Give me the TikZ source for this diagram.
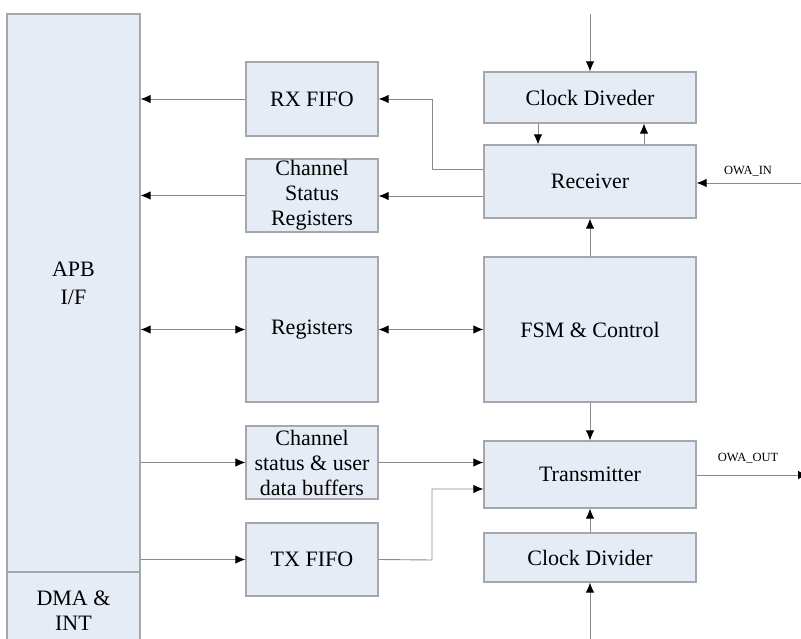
\documentclass[tikz,border=0pt]{standalone}
\usepackage{fontspec}
\setmainfont{Liberation Serif}
\newfontfamily\tnr{Liberation Serif}
\usetikzlibrary{arrows.meta}
\definecolor{boxfill}{HTML}{E6ECF6}
\definecolor{boxline}{HTML}{A4A7AC}
\definecolor{wire}{HTML}{8A8A8A}
\tikzset{
  blk/.style={draw=boxline, fill=boxfill, line width=1.2pt, inner sep=0pt, align=center,
    font=\tnr\fontsize{22}{25}\selectfont, text=black},
  tip/.tip={Latex[black,length=10pt,width=8.5pt]},
  arr/.style={draw=wire, line width=0.9pt, -tip},
  darr/.style={draw=wire, line width=0.9pt, tip-tip},
  lbl/.style={font=\tnr\fontsize{12.5}{14}\selectfont, text=black}
}
\begin{document}
\begin{tikzpicture}[x=1pt,y=-1pt]
\clip (0,0) rectangle (801,639);
\useasboundingbox (0,0) rectangle (801,639);
% left interface
\node[blk, minimum width=133pt, minimum height=558pt] (apb) at (73.5,293) {};
\node[font=\tnr\fontsize{22}{28}\selectfont, text=black, align=center] (apbt) at (73.5,283) {APB\\I/F};
\node[blk, minimum width=133pt, minimum height=78pt] (dma) at (73.5,611) {DMA \&\\INT};
% middle column
\node[blk, minimum width=132pt, minimum height=74pt] (rx) at (312,99) {RX FIFO};
\node[blk, minimum width=132pt, minimum height=73pt] (csr) at (312,195.5) {Channel\\Status\\Registers};
\node[blk, minimum width=132pt, minimum height=145pt] (reg) at (312,329.5) {Registers};
\node[blk, minimum width=132pt, minimum height=73pt] (csu) at (312,462.5) {Channel\\status \& user\\data buffers};
\node[blk, minimum width=132pt, minimum height=73pt] (txf) at (312,559.5) {TX FIFO};
% right column
\node[blk, minimum width=212pt, minimum height=51pt] (clkd) at (590,97.5) {Clock Diveder};
\node[blk, minimum width=212pt, minimum height=73pt] (rcv) at (590,181.5) {Receiver};
\node[blk, minimum width=212pt, minimum height=145pt] (fsm) at (590,329.5) {FSM \& Control};
\node[blk, minimum width=212pt, minimum height=67pt] (tx) at (590,474.5) {Transmitter};
\node[blk, minimum width=212pt, minimum height=49pt] (clkdv) at (590,557.5) {Clock Divider};
% free ends
\coordinate (top) at (590,14);
\coordinate (bot) at (590,639);
\coordinate (owain) at (801,183);
\coordinate (owaout) at (801,475);
\coordinate (rxbend) at (432,99);
\coordinate (txbend) at (432,560);
% labels
\node[lbl] (owainl) at (748,171) {OWA\_IN};
\node[lbl] (owaoutl) at (748,458) {OWA\_OUT};
% connectors
\draw[arr] (rx.west) -- (rx.west -| apb.east);
\draw[arr] (csr.west) -- (csr.west -| apb.east);
\draw[darr] (reg.west -| apb.east) -- (reg.west);
\draw[darr] (reg.east) -- (fsm.west);
\draw[arr] (csu.west -| apb.east) -- (csu.west);
\draw[arr] (txf.west -| apb.east) -- (txf.west);
\draw[arr] (rcv.west |- 0,169) -- (rxbend |- 0,169) -- (rxbend) -- (rx.east);
\draw[arr] (rcv.west |- 0,196) -- (csr.east |- 0,196);
\draw[arr] (top) -- (clkd.north);
\draw[arr] (clkd.south -| 538,0) -- (rcv.north -| 538,0);
\draw[arr] (rcv.north -| 644,0) -- (clkd.south -| 644,0);
\draw[arr] (owain) -- (rcv.east |- owain);
\draw[arr] (fsm.north) -- (rcv.south);
\draw[arr] (fsm.south) -- (tx.north);
\draw[arr] (csu.east) -- (tx.west |- csu.east);
\draw[arr] (txf.east) -- (txbend) -- (txbend |- 0,489) -- (tx.west |- 0,489);
\draw[arr] (clkdv.north) -- (tx.south);
\draw[arr] (bot) -- (clkdv.south);
\draw[arr] (tx.east |- owaout) -- ([xshift=7pt]owaout);
\end{tikzpicture}
\end{document}
